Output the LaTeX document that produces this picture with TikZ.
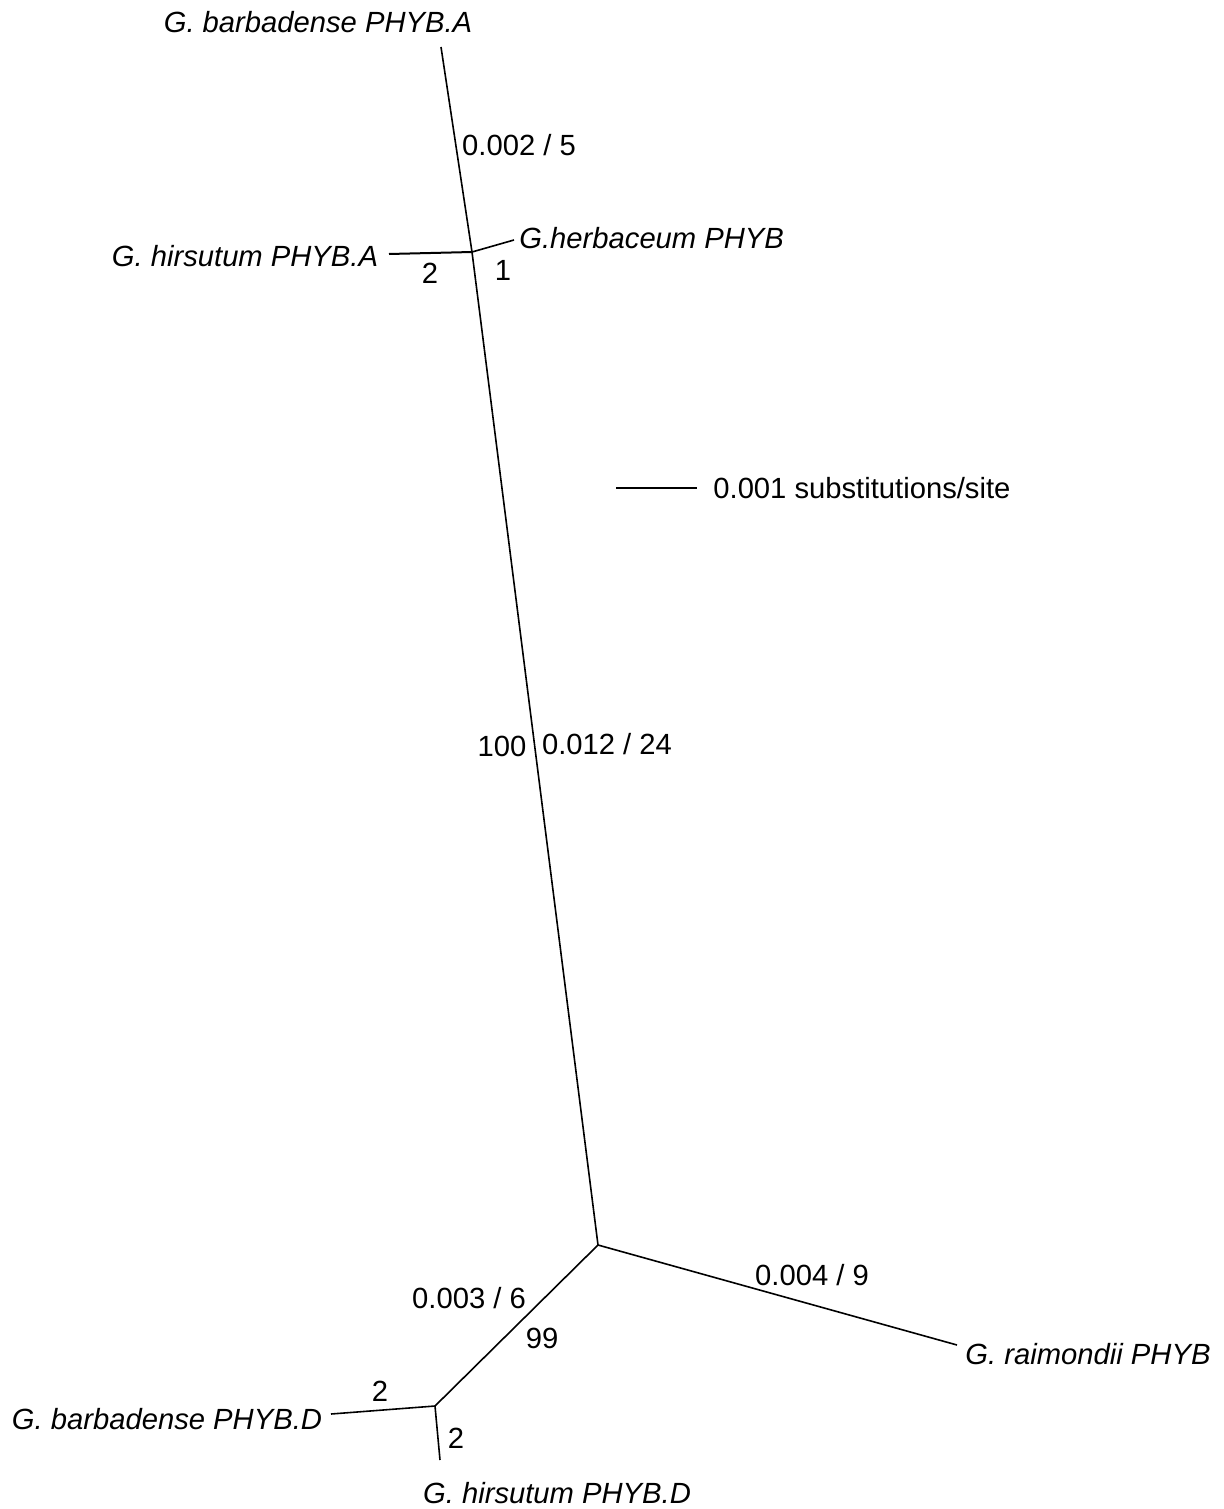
\documentclass[tikz,border=0pt]{standalone}
\usepackage{fontspec}
\setmainfont{Liberation Sans}
\begin{document}
\begin{tikzpicture}[x=0.5pt,y=-0.5pt,
  br/.style={line width=0.8pt},
  lbl/.style={font=\fontsize{14.6}{17}\selectfont, inner sep=0pt},
  taxon/.style={lbl, font=\fontsize{14.6}{17}\selectfont\itshape}]
\useasboundingbox (0,0) rectangle (1223,1509);
% internal nodes
\coordinate (jA) at (472,252);
\coordinate (c) at (598,1245);
\coordinate (jD) at (435,1406);
% leaves
\coordinate (lbA) at (441,47);
\coordinate (lhA) at (389,254);
\coordinate (lhe) at (514,240);
\coordinate (lr) at (957,1345);
\coordinate (lbD) at (331,1414);
\coordinate (lhD) at (440,1460);
\coordinate (s1) at (616,488);
\coordinate (s2) at (697,488);
% branches
\draw[br] (lbA) -- (jA);
\draw[br, line width=1pt] (lhA) -- (jA);
\draw[br] (lhe) -- (jA);
\draw[br] (jA) -- (c);
\draw[br] (c) -- (lr);
\draw[br] (c) -- (jD);
\draw[br] (jD) -- (lbD);
\draw[br] (jD) -- (lhD);
\draw[br] (s1) -- (s2);
% taxa
\node[taxon] (tbA) at (318,22) {G. barbadense PHYB.A};
\node[taxon] (thA) at (245,256) {G. hirsutum PHYB.A};
\node[taxon, anchor=west] (the) at (519,238) {G.herbaceum PHYB};
\node[taxon] (tr) at (1088,1354) {G. raimondii PHYB};
\node[taxon] (tbD) at (167,1419) {G. barbadense PHYB.D};
\node[taxon] (thD) at (557,1493) {G. hirsutum PHYB.D};
% labels
\node[lbl] (l1) at (519,145) {0.002 / 5};
\node[lbl] (l2) at (430,273) {2};
\node[lbl] (l3) at (503,270) {1};
\node[lbl, anchor=west] (l4) at (713,488) {0.001 substitutions/site};
\node[lbl] (l5) at (502,746) {100};
\node[lbl] (l6) at (607,744) {0.012 / 24};
\node[lbl] (l7) at (469,1298) {0.003 / 6};
\node[lbl] (l8) at (542,1338) {99};
\node[lbl] (l9) at (812,1275) {0.004 / 9};
\node[lbl] (l10) at (380,1391) {2};
\node[lbl] (l11) at (456,1438) {2};
\end{tikzpicture}
\end{document}
